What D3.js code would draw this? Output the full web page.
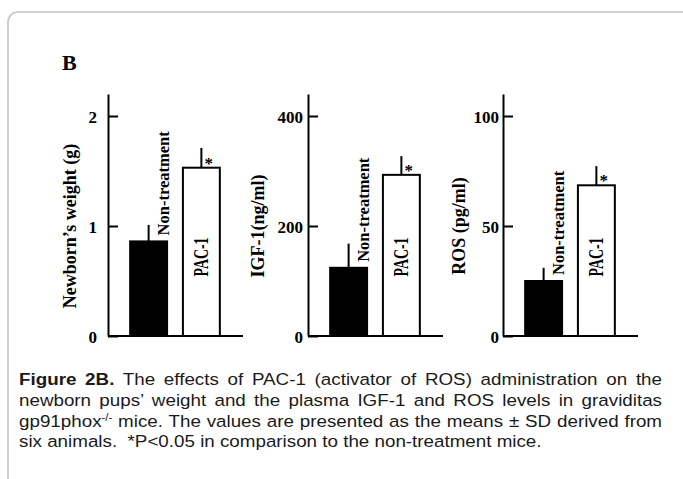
<!DOCTYPE html>
<html>
<head>
<meta charset="utf-8">
<script src="https://cdn.jsdelivr.net/npm/d3@7"></script>
<style>
  html, body { margin: 0; padding: 0; background: #ffffff; }
  svg { display: block; }
</style>
</head>
<body>
<svg id="chart" width="683" height="479"></svg>
<script>
// ---------------- DATA ----------------
const groups = ["Non-treatment", "PAC-1"];
const panelIds = ["weight", "igf", "ros"];
const yTitles = ["Newborn’s weight (g)", "IGF-1(ng/ml)", "ROS (pg/ml)"];
const weightMeans = [0.86, 1.53];
const weightSD = [0.15, 0.18];
const igfMeans = [124, 293];
const igfSD = [44, 34];
const rosMeans = [25, 68.5];
const rosSD = [6, 8.7];
const weightTicks = [0, 1, 2];
const igfTicks = [0, 200, 400];
const rosTicks = [0, 50, 100];
const significant = [false, true];
const panelLetter = "B";
const captionBold = "Figure 2B.";
const captionLine1 = " The effects of PAC-1 (activator of ROS) administration on the";
const captionLine2 = "newborn pups’ weight and the plasma IGF-1 and ROS levels in graviditas";
const captionLine3a = "gp91phox";
const captionLine3sup = "-/-";
const captionLine3b = " mice. The values are presented as the means ± SD derived from";
const captionLine4 = "six animals.  *P<0.05 in comparison to the non-treatment mice.";

// ---------------- LAYOUT ----------------
const serif = "'Liberation Serif', 'Times New Roman', serif";
const sans = "'Liberation Sans', Arial, sans-serif";
const baseY = 336, topTickY = 116, axisTopY = 94;
const layout = [
  { axisX: 108, titleX: 70, pad: 11 },
  { axisX: 308, titleX: 258, pad: 5 },
  { axisX: 503, titleX: 459, pad: 4 }
];
const panelData = [
  { means: weightMeans, sd: weightSD, ticks: weightTicks },
  { means: igfMeans, sd: igfSD, ticks: igfTicks },
  { means: rosMeans, sd: rosSD, ticks: rosTicks }
];

const svg = d3.select("#chart");

// frame
svg.append("rect")
  .attr("x", 8).attr("y", 12).attr("width", 720).attr("height", 520)
  .attr("rx", 10).attr("ry", 10)
  .attr("fill", "none").attr("stroke", "#c4c4c4").attr("stroke-width", 1.6);

// panel letter
svg.append("text")
  .attr("x", 62).attr("y", 70)
  .attr("font-family", serif).attr("font-weight", "bold").attr("font-size", 22)
  .text(panelLetter);

panelIds.forEach((id, i) => {
  const L = layout[i], D = panelData[i];
  const g = svg.append("g").attr("class", "panel-" + id);
  const top = D.ticks[D.ticks.length - 1];
  const y = d3.scaleLinear().domain([0, top]).range([baseY, topTickY]);
  const yExt = d3.scaleLinear().domain([0, y.invert(axisTopY)]).range([baseY, axisTopY]);
  const x = d3.scaleBand().domain(groups).range([L.axisX, L.axisX + 134])
    .paddingInner(0.3).paddingOuter(0.42);
  const bw = x.bandwidth();

  // y axis
  const ax = g.append("g").attr("transform", `translate(${L.axisX},0)`)
    .call(d3.axisLeft(yExt).tickValues(D.ticks).tickSizeInner(-10).tickSizeOuter(0)
      .tickPadding(L.pad).tickFormat(d3.format("d")));
  ax.selectAll("path.domain").attr("stroke", "#000").attr("stroke-width", 2);
  ax.selectAll(".tick line").attr("stroke", "#000").attr("stroke-width", 2);
  ax.selectAll(".tick text")
    .attr("font-family", serif).attr("font-weight", "bold").attr("font-size", 17)
    .attr("fill", "#000").attr("dy", "0.38em");

  // baseline
  g.append("line")
    .attr("x1", L.axisX).attr("x2", L.axisX + 135)
    .attr("y1", baseY).attr("y2", baseY)
    .attr("stroke", "#000").attr("stroke-width", 2);

  // y title
  g.append("text")
    .attr("transform", `translate(${L.titleX},${(baseY + topTickY) / 2}) rotate(-90)`)
    .attr("text-anchor", "middle").attr("dy", "0.35em")
    .attr("font-family", serif).attr("font-weight", "bold").attr("font-size", 18)
    .text(yTitles[i]);

  // error bars
  g.selectAll("line.err").data(groups).join("line").attr("class", "err")
    .attr("x1", d => x(d) + bw / 2).attr("x2", d => x(d) + bw / 2)
    .attr("y1", (d, j) => y(D.means[j])).attr("y2", (d, j) => y(D.means[j] + D.sd[j]))
    .attr("stroke", "#000").attr("stroke-width", 2);

  // bars
  g.selectAll("rect.bar").data(groups).join("rect").attr("class", "bar")
    .attr("x", d => x(d)).attr("width", bw)
    .attr("y", (d, j) => y(D.means[j])).attr("height", (d, j) => baseY - y(D.means[j]))
    .attr("fill", (d, j) => j === 0 ? "#000" : "#fff")
    .attr("stroke", "#000").attr("stroke-width", 2);

  // significance asterisk
  g.selectAll("text.sig").data(groups.filter((d, j) => significant[j])).join("text")
    .attr("class", "sig")
    .attr("x", d => x(d) + bw - 11)
    .attr("y", d => y(D.means[groups.indexOf(d)]) + 1)
    .attr("text-anchor", "middle")
    .attr("font-family", serif).attr("font-weight", "bold").attr("font-size", 17)
    .text("*");

  // Non-treatment label (above black bar)
  g.append("text")
    .attr("transform", `translate(${x(groups[0]) + bw - 4},${y(D.means[0]) - 6}) rotate(-90)`)
    .attr("text-anchor", "start").attr("dy", "0.35em")
    .attr("font-family", serif).attr("font-weight", "bold").attr("font-size", 16.5)
    .text(groups[0]);

  // PAC-1 label (inside white bar)
  g.append("text")
    .attr("transform", `translate(${x(groups[1]) + bw / 2},${baseY - 79}) rotate(-90)`)
    .attr("text-anchor", "middle").attr("dy", "0.35em")
    .attr("font-family", serif).attr("font-weight", "bold").attr("font-size", 20)
    .attr("textLength", 39).attr("lengthAdjust", "spacingAndGlyphs")
    .text(groups[1]);
});

// ---------------- CAPTION ----------------
const capX = 19, capW = 643, capFont = 16.5;
const capBaselines = [385, 406, 427, 447];
const cap = svg.append("g").attr("class", "caption")
  .attr("font-family", sans).attr("font-size", capFont).attr("fill", "#1a1a1a");

const l1 = cap.append("text").attr("y", capBaselines[0]);
l1.append("tspan").attr("font-weight", "bold").text(captionBold);
l1.append("tspan").text(captionLine1);
const l2 = cap.append("text").attr("y", capBaselines[1]).text(captionLine2);
const l3 = cap.append("text").attr("y", capBaselines[2]);
l3.append("tspan").text(captionLine3a);
l3.append("tspan").attr("font-size", 10).attr("dy", -6).text(captionLine3sup);
l3.append("tspan").attr("dy", 6).text(captionLine3b);
const l4 = cap.append("text").attr("y", capBaselines[3])
  .style("white-space", "pre").text(captionLine4);

// horizontal scale from last (unjustified) line, then justify lines 1-3
const natural4 = l4.node().getComputedTextLength();
const sx = 523 / natural4;
[l1, l2, l3, l4].forEach(t => t.attr("transform", `translate(${capX},0) scale(${sx},1)`));
[[l1, captionBold + captionLine1], [l2, captionLine2], [l3, captionLine3a + captionLine3sup + captionLine3b]]
  .forEach(([t, s]) => {
    const w = t.node().getComputedTextLength();
    const spaces = (s.match(/ /g) || []).length;
    const extra = (capW / sx - w) / spaces;
    t.attr("word-spacing", extra);
  });
</script>
</body>
</html>
